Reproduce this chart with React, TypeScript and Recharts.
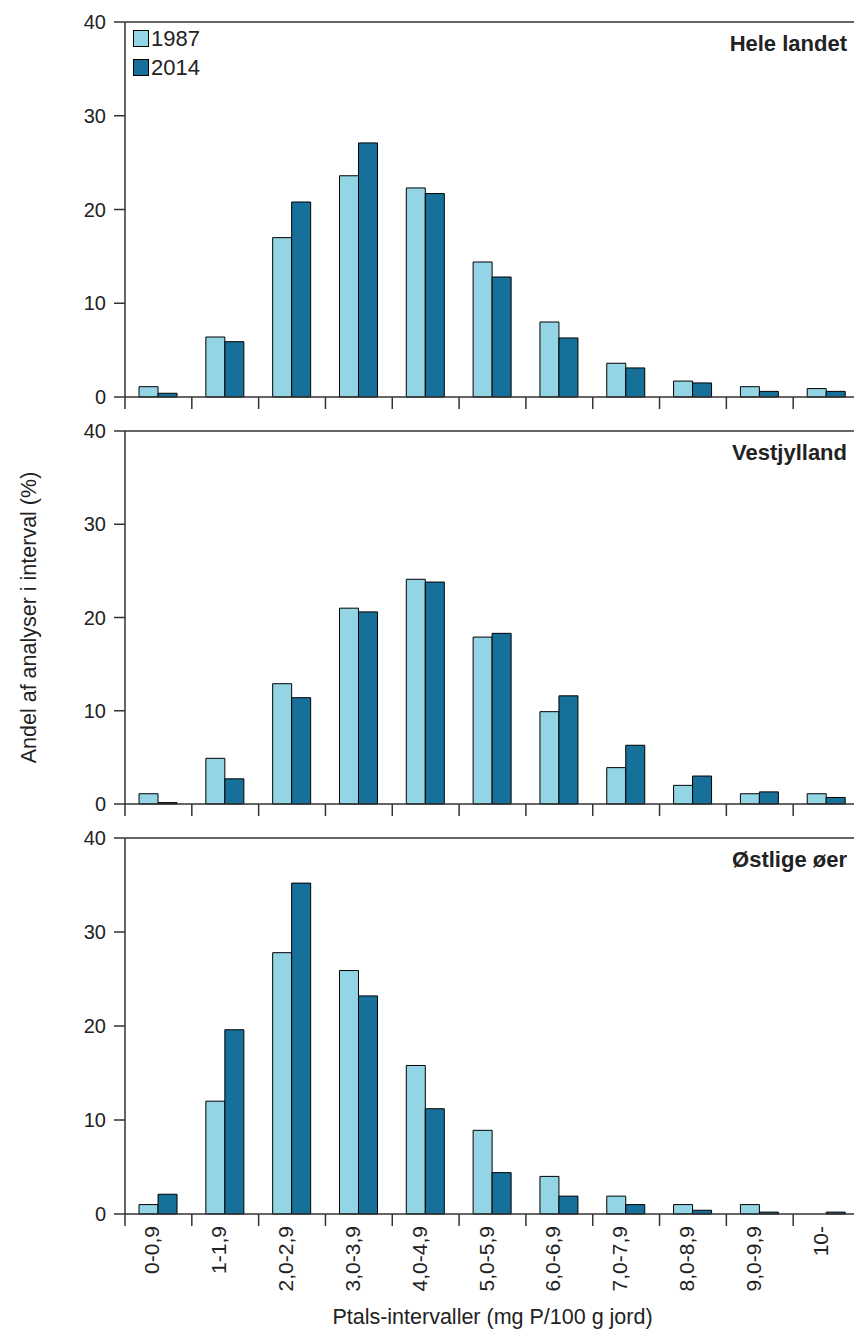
import { BarChart, Bar, XAxis, YAxis, ReferenceLine, Legend } from "recharts";

const categories = ["0-0,9", "1-1,9", "2,0-2,9", "3,0-3,9", "4,0-4,9", "5,0-5,9", "6,0-6,9", "7,0-7,9", "8,0-8,9", "9,0-9,9", "10-"];

const heleLandet1987 = [1.1, 6.4, 17.0, 23.6, 22.3, 14.4, 8.0, 3.6, 1.7, 1.1, 0.9];
const heleLandet2014 = [0.4, 5.9, 20.8, 27.1, 21.7, 12.8, 6.3, 3.1, 1.5, 0.6, 0.6];

const vestjylland1987 = [1.1, 4.9, 12.9, 21.0, 24.1, 17.9, 9.9, 3.9, 2.0, 1.1, 1.1];
const vestjylland2014 = [0.15, 2.7, 11.4, 20.6, 23.8, 18.3, 11.6, 6.3, 3.0, 1.3, 0.7];

const ostligeOer1987 = [1.0, 12.0, 27.8, 25.9, 15.8, 8.9, 4.0, 1.9, 1.0, 1.0, 0];
const ostligeOer2014 = [2.1, 19.6, 35.2, 23.2, 11.2, 4.4, 1.9, 1.0, 0.4, 0.2, 0.2];

const yTicks = [0, 10, 20, 30, 40];

const LIGHT = "#93d5e5";
const DARK = "#17709a";
const AXIS = "#333";
const TEXT = "#222";

const CHART_W = 862;
const Y_W = 125;
const RIGHT = 2;
const halfBand = (CHART_W - Y_W - RIGHT) / categories.length / 2;

const rows = (a: number[], b: number[]) =>
  categories.map((name, i) => ({ name, y1987: a[i], y2014: b[i] }));

function LegendBox() {
  const item = (color: string, label: string) => (
    <div style={{ display: "flex", alignItems: "center", height: 29 }}>
      <span style={{ width: 14, height: 15, background: color, border: "1px solid #000", marginRight: 2 }} />
      <span style={{ fontSize: 22, color: TEXT }}>{label}</span>
    </div>
  );
  return (
    <div>
      {item(LIGHT, "1987")}
      {item(DARK, "2014")}
    </div>
  );
}

interface PanelProps {
  data: { name: string; y1987: number; y2014: number }[];
  title: string;
  top: number;
  height: number;
  xHeight: number;
  showLabels?: boolean;
  showLegend?: boolean;
  yLabel?: string;
  xLabel?: string;
}

function Panel({ data, title, top, height, xHeight, showLabels, showLegend, yLabel, xLabel }: PanelProps) {
  const renderTick = (props: any) => {
    const { x, y, payload } = props;
    return (
      <g>
        <line x1={x - halfBand} x2={x - halfBand} y1={y} y2={y + 12} stroke={AXIS} strokeWidth={1.5} />
        {showLabels && (
          <text
            x={x + 1}
            y={y + 12}
            transform={`rotate(-90, ${x + 1}, ${y + 12})`}
            textAnchor="end"
            fill={TEXT}
            fontSize={21}
          >
            {payload.value}
          </text>
        )}
      </g>
    );
  };

  return (
    <div style={{ position: "absolute", left: 0, top }}>
      <BarChart
        width={CHART_W}
        height={height}
        data={data}
        margin={{ top: 22, right: RIGHT, left: 0, bottom: 0 }}
        barGap={0}
        barCategoryGap="21%"
      >
        <XAxis
          dataKey="name"
          height={xHeight}
          tickLine={false}
          tickSize={0}
          tickMargin={0}
          interval={0}
          stroke={AXIS}
          strokeWidth={1.5}
          tick={renderTick}
          label={xLabel ? { value: xLabel, position: "insideBottom", offset: 6, fill: TEXT, fontSize: 21.5 } : undefined}
        />
        <YAxis
          width={Y_W}
          domain={[0, 40]}
          ticks={yTicks}
          tickSize={11}
          tickMargin={8}
          stroke={AXIS}
          strokeWidth={1.5}
          tick={{ fill: TEXT, fontSize: 20 }}
          label={
            yLabel
              ? { value: yLabel, angle: -90, position: "insideLeft", offset: 28, fill: TEXT, fontSize: 21.5, style: { textAnchor: "middle" } }
              : undefined
          }
        />
        <ReferenceLine
          y={40}
          stroke={AXIS}
          strokeWidth={1.5}
          label={{ value: title, position: "insideTopRight", offset: 13, fill: TEXT, fontSize: 22, fontWeight: "bold" }}
        />
        {showLegend && (
          <Legend
            layout="vertical"
            align="center"
            verticalAlign="middle"
            wrapperStyle={{ left: 133, top: 24, width: 120 }}
            content={() => <LegendBox />}
          />
        )}
        <Bar dataKey="y1987" name="1987" fill={LIGHT} stroke="#000" strokeWidth={1} isAnimationActive={false} />
        <Bar dataKey="y2014" name="2014" fill={DARK} stroke="#000" strokeWidth={1} isAnimationActive={false} />
      </BarChart>
    </div>
  );
}

export default function App() {
  return (
    <div
      style={{
        position: "absolute",
        left: 0,
        top: 0,
        width: 854,
        height: 1330,
        overflow: "hidden",
        background: "#fff",
        fontFamily: "'Liberation Sans', Arial, sans-serif",
      }}
    >
      <Panel data={rows(heleLandet1987, heleLandet2014)} title="Hele landet" top={0} height={420} xHeight={23} showLegend />
      <Panel
        data={rows(vestjylland1987, vestjylland2014)}
        title="Vestjylland"
        top={409}
        height={418}
        xHeight={23}
        yLabel="Andel af analyser i interval (%)"
      />
      <Panel
        data={rows(ostligeOer1987, ostligeOer2014)}
        title="Østlige øer"
        top={816}
        height={514}
        xHeight={116}
        showLabels
        xLabel="Ptals-intervaller (mg P/100 g jord)"
      />
    </div>
  );
}
